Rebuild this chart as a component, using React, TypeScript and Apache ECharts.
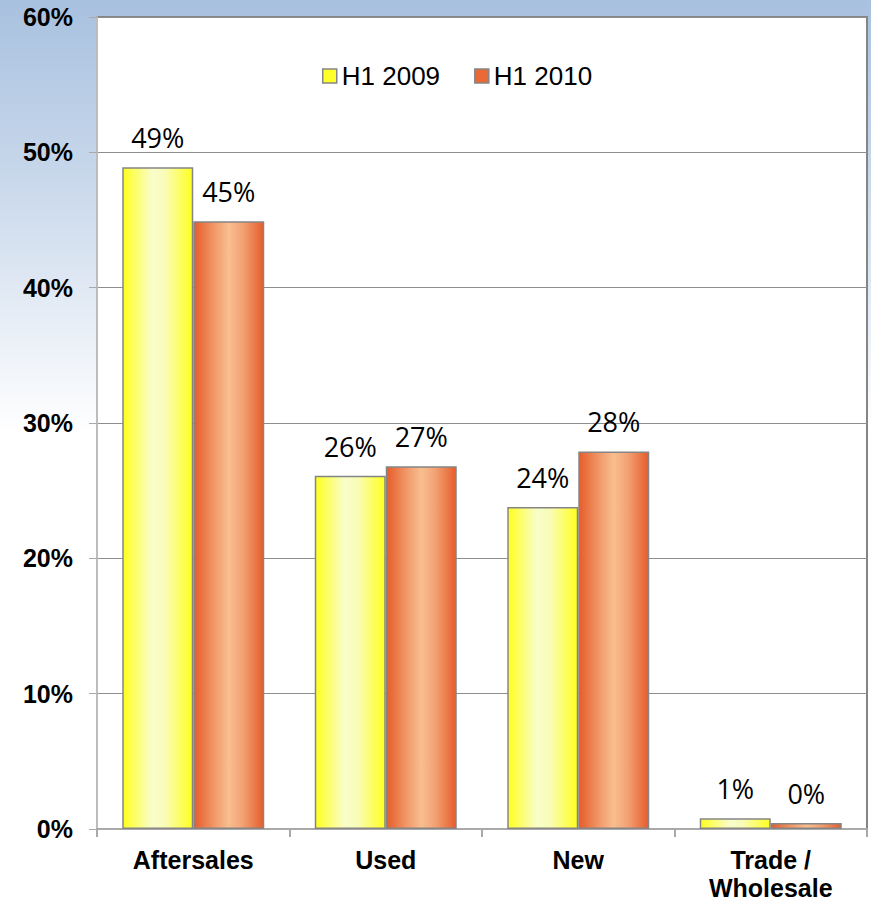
import React, { useEffect, useRef } from "react";
import * as echarts from "echarts";

// Share of gross profit by business line
const categories = ["Aftersales", "Used", "New", "Trade /\nWholesale"];
const seriesNames = ["H1 2009", "H1 2010"];
const h2009 = [48.9, 26.1, 23.8, 0.8];
const h2010 = [44.9, 26.8, 27.9, 0.45];
const yTicks = { min: 0, max: 60, interval: 10 };

const yellowFill = new echarts.graphic.LinearGradient(0, 0, 1, 0, [
  { offset: 0, color: "#ffff1e" },
  { offset: 0.42, color: "#f8fdcb" },
  { offset: 0.6, color: "#f9fcb8" },
  { offset: 1, color: "#ffff1e" },
]);

const orangeFill = new echarts.graphic.LinearGradient(0, 0, 1, 0, [
  { offset: 0, color: "#e75c2a" },
  { offset: 0.3, color: "#f19a6b" },
  { offset: 0.5, color: "#f9be8f" },
  { offset: 0.7, color: "#f2a274" },
  { offset: 1, color: "#e75c2a" },
]);

const pageBackground = new echarts.graphic.LinearGradient(0, 0, 0, 1, [
  { offset: 0, color: "#a8c1df" },
  { offset: 0.2, color: "#c9d8eb" },
  { offset: 0.48, color: "#ffffff" },
  { offset: 1, color: "#ffffff" },
]);

const pctLabel = (p: any) => `${Math.round(p.value)}%`;

export default function App() {
  const ref = useRef<HTMLDivElement>(null);

  useEffect(() => {
    document.body.style.margin = "0";
    if (!ref.current) return;
    const chart = echarts.init(ref.current, undefined, { renderer: "svg" });

    const barLabel = {
      show: true,
      position: "top" as const,
      distance: 16,
      formatter: pctLabel,
      fontFamily: "Open Sans",
      fontSize: 27,
      color: "#000",
    };

    chart.setOption({
      animation: false,
      backgroundColor: pageBackground,
      grid: {
        left: 97,
        right: 4,
        top: 17,
        bottom: 74,
        show: true,
        backgroundColor: "#ffffff",
        borderColor: "#858585",
        borderWidth: 2,
      },
      legend: {
        left: 317,
        top: 58,
        itemWidth: 14,
        itemHeight: 14,
        itemGap: 34,
        icon: "rect",
        textStyle: {
          fontFamily: "Liberation Sans",
          fontSize: 26,
          color: "#000",
        },
        data: [
          { name: seriesNames[0], itemStyle: { color: "#ffff2a", borderColor: "#858585", borderWidth: 1.5 } },
          { name: seriesNames[1], itemStyle: { color: "#ea6a37", borderColor: "#858585", borderWidth: 1.5 } },
        ],
      },
      xAxis: {
        type: "category",
        data: categories,
        axisLine: { lineStyle: { color: "#a9a9a9", width: 2 } },
        axisTick: { show: true, length: 8, lineStyle: { color: "#a9a9a9", width: 2 } },
        axisLabel: {
          margin: 17,
          fontFamily: "Liberation Sans",
          fontWeight: "bold",
          fontSize: 25,
          lineHeight: 28,
          color: "#000",
        },
      },
      yAxis: {
        type: "value",
        min: yTicks.min,
        max: yTicks.max,
        interval: yTicks.interval,
        axisLine: { show: true, lineStyle: { color: "#bdbdbd", width: 2 } },
        axisTick: { show: true, length: 8, lineStyle: { color: "#a9a9a9", width: 1 } },
        splitLine: { show: true, lineStyle: { color: "#8e8e8e", width: 1 } },
        axisLabel: {
          margin: 24,
          formatter: "{value}%",
          fontFamily: "Liberation Sans",
          fontWeight: "bold",
          fontSize: 25,
          color: "#000",
        },
      },
      series: [
        {
          name: seriesNames[0],
          type: "bar",
          data: h2009,
          barWidth: 71,
          barGap: "0%",
          itemStyle: { color: yellowFill, borderColor: "#858585", borderWidth: 1.5 },
          label: barLabel,
        },
        {
          name: seriesNames[1],
          type: "bar",
          data: h2010,
          barWidth: 71,
          barGap: "0%",
          itemStyle: { color: orangeFill, borderColor: "#858585", borderWidth: 1.5 },
          label: barLabel,
        },
      ],
    });

    return () => chart.dispose();
  }, []);

  return <div ref={ref} style={{ width: 871, height: 903 }} />;
}
